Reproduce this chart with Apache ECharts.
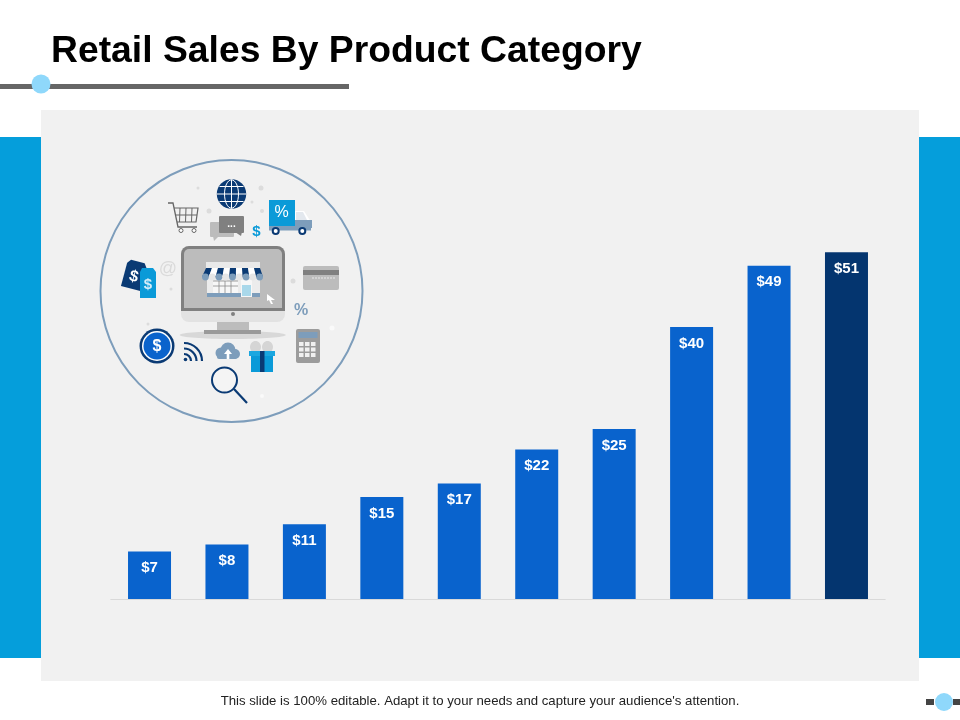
<!DOCTYPE html>
<html>
<head>
    <meta charset="utf-8">
    <title>Retail Sales By Product Category</title>
    <script src="https://cdn.jsdelivr.net/npm/echarts@6/dist/echarts.min.js"></script>
    <style>html, body { margin: 0; padding: 0; background: #fff; }</style>
</head>
<body>
    <div id="main" style="width: 960px;height:720px;"></div>
    <script type="text/javascript">
var categories = ['Category 1', 'Category 2', 'Category 3', 'Category 4', 'Category 5',
    'Category 6', 'Category 7', 'Category 8', 'Category 9', 'Category 10'];
var sales = [7, 8, 11, 15, 17, 22, 25, 40, 49, 51];

var BLUE = '#059edb', NAVY = '#0a3a74', STEEL = '#7d9dbb', GREY = '#bcbcbc', DARK = '#808080';
var FONT = '"Liberation Sans", Arial, sans-serif';

var myChart = echarts.init(document.getElementById('main'), null, { renderer: 'canvas' });

// helpers for the slide furniture and the clip-art circle
function rect(x, y, w, h, fill, r, z) {
    return { type: 'rect', z: z || 0, shape: { x: x, y: y, width: w, height: h, r: r || 0 }, style: { fill: fill } };
}
function circle(cx, cy, r, fill, stroke, lw) {
    return { type: 'circle', shape: { cx: cx, cy: cy, r: r },
        style: { fill: fill || 'transparent', stroke: stroke || null, lineWidth: lw || 0 } };
}
function line(x1, y1, x2, y2, stroke, lw) {
    return { type: 'line', shape: { x1: x1, y1: y1, x2: x2, y2: y2 }, style: { stroke: stroke, lineWidth: lw || 1 } };
}
function poly(points, fill) {
    return { type: 'polygon', shape: { points: points }, style: { fill: fill } };
}
function polyline(points, stroke, lw) {
    return { type: 'polyline', shape: { points: points }, style: { stroke: stroke, lineWidth: lw || 1, fill: 'transparent' } };
}
function label(x, y, text, size, fill, weight, align) {
    return { type: 'text', x: x, y: y, style: { text: text, fontSize: size, fontFamily: FONT,
        fontWeight: weight || 'normal', fill: fill, align: align || 'center', verticalAlign: 'middle' } };
}

var art = [];
art.push(circle(231.5, 291, 131, null, STEEL, 2));

// sparkles
[[198, 188, 1.5], [261, 188, 2.5], [209, 211, 2.5], [262, 211, 2], [252, 202, 1.5], [171, 289, 1.5],
 [293, 281, 2.5], [148, 324, 1.5], [262, 396, 2], [332, 328, 2.5]].forEach(function (s) {
    art.push(circle(s[0], s[1], s[2], s[0] > 320 || s[1] > 390 ? '#fafafa' : '#dcdcdc'));
});

// globe
art.push(circle(231.5, 194, 14.7, NAVY));
art.push({ type: 'ellipse', shape: { cx: 231.5, cy: 194, rx: 7, ry: 14.2 }, style: { fill: 'transparent', stroke: '#fff', lineWidth: 1 } });
art.push(line(231.5, 179.5, 231.5, 208.5, '#fff', 1));
art.push(line(217, 194, 246, 194, '#fff', 1));
art.push(line(219.5, 186.5, 243.5, 186.5, '#fff', 1));
art.push(line(219.5, 201.5, 243.5, 201.5, '#fff', 1));

// cart
art.push(polyline([[168, 203], [173, 203], [178, 227], [197, 227]], '#666', 1.3));
art.push(polyline([[174, 208], [198, 208], [196, 222], [177, 222]], '#666', 1.2));
[180, 186, 192].forEach(function (x) { art.push(line(x, 208, x - 0.5, 222, '#666', 1)); });
art.push(line(175.5, 215, 197, 215, '#666', 1));
art.push(circle(181, 230.5, 2, '#fff', '#666', 1));
art.push(circle(194, 230.5, 2, '#fff', '#666', 1));

// truck
art.push(poly([[295, 211], [304, 211], [311, 222], [311, 227], [295, 227]], '#fff'));
art.push(poly([[296, 212], [303, 212], [307, 220], [296, 220]], '#e3e8ee'));
art.push(rect(269, 226, 42, 4.5, STEEL));
art.push(rect(295, 220, 17, 8, STEEL));
art.push(rect(269, 200, 26, 26, '#0a9ad8'));
art.push(label(281.5, 213, '%', 16, '#fff'));
art.push(circle(275.7, 231, 3, '#fff', NAVY, 2));
art.push(circle(302.3, 231, 3, '#fff', NAVY, 2));

// chat bubbles
art.push(rect(210, 222, 24, 15, GREY, 1));
art.push(poly([[213, 236], [219, 236], [214, 241]], GREY));
art.push(rect(219, 216, 25, 17, DARK, 1));
art.push(poly([[235, 232], [242, 232], [241, 236]], DARK));
art.push(label(231.5, 224, '...', 10, '#fff', 'bold'));
art.push(label(256.5, 232, '$', 15, '#0a9ad8', 'bold'));

// monitor
art.push({ type: 'ellipse', shape: { cx: 232.7, cy: 335, rx: 53, ry: 4 }, style: { fill: '#d8d8d8' } });
art.push(rect(217, 321, 32, 10, GREY));
art.push(rect(204, 330, 57, 4, '#9a9a9a'));
art.push(rect(181, 246, 104, 76, '#e2e2e2', 8));
art.push(rect(181, 246, 104, 65, DARK, [8, 8, 0, 0]));
art.push(rect(184, 249, 98, 59, GREY, [5, 5, 0, 0]));
art.push(circle(233, 314, 2, DARK));

// shop
art.push(rect(206, 262, 54, 6, '#e9e9e9'));
art.push(rect(207, 278, 53, 19, '#ececec'));
art.push(rect(207, 293, 53, 4, STEEL));
art.push(rect(213, 281, 25, 12, '#f7f7f7'));
[219, 225, 231].forEach(function (x) { art.push(line(x, 281, x, 293, '#8a8a8a', 0.8)); });
art.push(line(213, 286, 238, 286, '#8a8a8a', 0.8));
art.push(line(213, 281, 238, 281, '#8a8a8a', 0.8));
art.push(rect(241, 280, 11, 17, '#f7f7f7'));
art.push(rect(242, 285, 9, 11, '#a9d8ea'));
var stripes = [NAVY, '#fff', NAVY, '#fff', NAVY, '#fff', NAVY, '#fff', NAVY];
stripes.forEach(function (c, i) {
    var tl = 206 + i * 6, bl = 202 + i * 6.78;
    art.push(poly([[tl, 268], [tl + 6, 268], [bl + 6.78, 277], [bl, 277]], c));
    art.push(circle(bl + 3.39, 277, 3.39, c === NAVY ? STEEL : '#e6e6e6'));
});
art.push(poly([[267, 294], [275, 300], [271, 300], [273, 304], [271, 304], [269, 300], [267, 301]], '#fff'));

// price tags
art.push({ type: 'group', x: 134.5, y: 274, rotation: -15 * Math.PI / 180, children: [
    poly([[-7, -13], [7, -13], [10, -9], [10, 15], [-10, 15], [-10, -9]], NAVY),
    label(0, 3, '$', 16, '#fff', 'bold')
] });
art.push(poly([[142, 268], [153, 268], [156, 272], [156, 298], [140, 298], [140, 272]], '#0a9ad8'));
art.push(label(148, 285, '$', 15, '#d5eef9', 'bold'));
art.push(label(168, 269, '@', 18, '#dadada'));

// card and percent
art.push(rect(303, 266, 36, 24, GREY, 2));
art.push(rect(303, 270, 36, 5, DARK));
[313, 316, 319, 322, 325, 328, 331, 334].forEach(function (x) { art.push(circle(x, 278, 0.8, '#eee')); });
art.push(label(301, 311, '%', 16, STEEL, 'bold'));

// calculator
art.push(rect(296, 329, 24, 34, '#9c9c9c', 2));
art.push(rect(298.5, 332, 19, 6, STEEL));
[342, 347.5, 353].forEach(function (y) {
    [299, 305, 311].forEach(function (x) { art.push(rect(x, y, 4.5, 4, '#f0f0f0')); });
});

// coin
art.push(circle(157, 346, 17.5, NAVY));
art.push(circle(157, 346, 15, '#fff'));
art.push(circle(157, 346, 13.5, '#0a63cc'));
art.push(label(157, 346.5, '$', 16, '#fff', 'bold'));

// wifi
art.push(circle(185.5, 359.5, 1.8, NAVY));
[7, 12.5, 18].forEach(function (r) {
    art.push({ type: 'arc', shape: { cx: 184, cy: 361, r: r, startAngle: -Math.PI / 2, endAngle: 0 },
        style: { stroke: NAVY, lineWidth: 2.2, fill: 'transparent' } });
});

// cloud
art.push(circle(221, 353, 5.5, STEEL));
art.push(circle(228, 350, 7.5, STEEL));
art.push(circle(235, 354, 5, STEEL));
art.push(rect(217, 354, 20, 5, STEEL, 2));
art.push(poly([[228, 349], [232, 354], [229.3, 354], [229.3, 359], [226.7, 359], [226.7, 354], [224, 354]], '#fff'));

// gift
art.push({ type: 'ellipse', shape: { cx: 255.5, cy: 347, rx: 5.5, ry: 6 }, style: { fill: '#d5d5d5' } });
art.push({ type: 'ellipse', shape: { cx: 267.5, cy: 347, rx: 5.5, ry: 6 }, style: { fill: '#d5d5d5' } });
art.push(rect(251, 356, 22, 16, '#0a9ad8'));
art.push(rect(249, 351, 26, 5, '#1ba7e0'));
art.push(rect(260, 351, 4.5, 21, NAVY));

// magnifier
art.push(circle(224.5, 380, 12.5, '#f4f4f4', NAVY, 2));
art.push(line(234, 389, 247, 403, NAVY, 2.2));

var furniture = [
    rect(0, 137, 41, 521, BLUE, 0, -3),
    rect(919, 137, 41, 521, BLUE, 0, -3),
    rect(41, 110, 878, 571, '#f1f1f1', 0, -2),
    rect(0, 84, 349, 5, '#666666'),
    { type: 'circle', shape: { cx: 41, cy: 84, r: 9.5 }, style: { fill: '#8fd8fb' } },
    rect(926, 699, 8, 6, '#444444'),
    rect(953, 699, 7, 6, '#444444'),
    { type: 'circle', shape: { cx: 944, cy: 702, r: 9 }, style: { fill: '#8fd8fb' } },
    { type: 'text', x: 51, y: 52, style: { text: 'Retail Sales By Product Category', fontSize: 37.3, fontWeight: 'bold',
        fontFamily: FONT, fill: '#000', align: 'left', verticalAlign: 'middle' } },
    { type: 'text', x: 480, y: 701, style: { text: "This slide is 100% editable. Adapt it to your needs and capture your audience's attention.",
        fontSize: 13.2, fontFamily: FONT, fill: '#222', align: 'center', verticalAlign: 'middle' } }
];

var option = {
    animation: false,
    backgroundColor: '#fff',
    graphic: { elements: furniture.concat(art) },
    grid: { left: 110.8, right: 74.8, top: 191, bottom: 121 },
    xAxis: {
        type: 'category',
        data: categories,
        axisTick: { show: false },
        axisLabel: { show: false },
        axisLine: { lineStyle: { color: '#d9d9d9', width: 1 } }
    },
    yAxis: {
        type: 'value',
        min: 0,
        max: 60,
        show: false,
        splitLine: { show: false }
    },
    series: [{
        type: 'bar',
        barWidth: 43,
        data: sales,
        itemStyle: {
            color: function (p) { return p.dataIndex === sales.length - 1 ? '#04356f' : '#0963cd'; }
        },
        label: {
            show: true,
            position: 'insideTop',
            distance: 9,
            formatter: '${c}',
            color: '#fff',
            fontSize: 15,
            fontWeight: 'bold',
            fontFamily: FONT
        }
    }]
};

myChart.setOption(option);
    </script>
</body>
</html>
